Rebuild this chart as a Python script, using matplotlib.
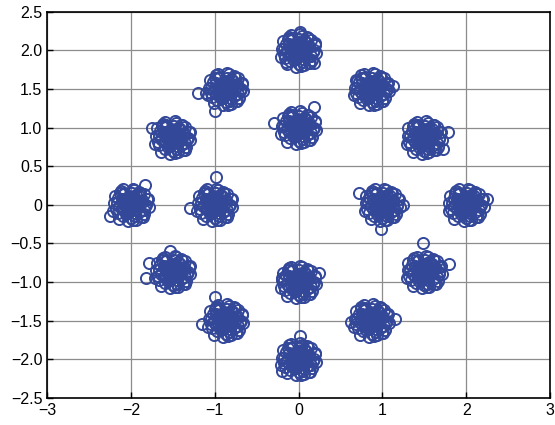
import numpy as np
import matplotlib
matplotlib.use("Agg")
import matplotlib.pyplot as plt
import matplotlib.ticker as ticker

# constellation centres
centre_x = [0.0, 0.87, 1.5, 2.0, 1.5, 0.87, 0.0, -0.87, -1.5, -2.0, -1.5, -0.87,
            0.0, 1.0, 0.0, -1.0]
centre_y = [2.0, 1.5, 0.87, 0.0, -0.87, -1.5, -2.0, -1.5, -0.87, 0.0, 0.87, 1.5,
            1.0, 0.0, -1.0, 0.0]

# scatter around each centre (estimated by eye)
core_dx = [0.00, 0.04, -0.05, 0.08, -0.09, 0.03, -0.03, 0.10, -0.11, 0.06,
           -0.06, 0.13, -0.14, 0.01, 0.05, -0.04, 0.15, -0.15, 0.09, -0.10,
           0.11, -0.08, 0.00, 0.18, -0.18, 0.04, -0.01, 0.14, -0.13, 0.08,
           -0.05, 0.19, -0.20, 0.03, 0.10, -0.09, 0.16, -0.16, 0.06, -0.02,
           0.13, -0.11, 0.21, -0.19, 0.00, 0.05, -0.08, 0.15, -0.14, 0.09,
           0.20, -0.21, 0.12, -0.12, 0.02, -0.03, 0.17, -0.17,
           # tight centre
           0.02, -0.02, 0.05, -0.05, 0.01, -0.01, 0.06, -0.06, 0.03, -0.03,
           0.00, 0.04, -0.04, 0.07, -0.07, 0.02, -0.02, 0.05, -0.05, 0.00,
           0.08, -0.08, 0.03, -0.03, 0.06, -0.06]
core_dy = [0.00, -0.05, 0.06, 0.03, -0.04, 0.10, -0.11, -0.09, 0.08, 0.13,
           -0.12, 0.04, -0.02, 0.15, -0.15, 0.01, -0.07, 0.09, 0.11, -0.14,
           0.16, 0.14, -0.17, 0.00, -0.05, 0.19, 0.05, -0.16, 0.15, -0.01,
           -0.09, 0.07, 0.02, -0.20, 0.17, 0.20, -0.12, -0.10, -0.19, 0.11,
           0.06, -0.06, -0.03, 0.12, 0.09, -0.11, 0.16, 0.14, -0.18, 0.04,
           0.08, -0.08, -0.16, 0.18, 0.21, -0.21, -0.02, 0.02,
           # tight centre
           0.02, -0.03, 0.01, -0.01, 0.05, -0.05, 0.04, -0.04, 0.07, -0.07,
           0.03, -0.02, 0.02, 0.00, 0.01, 0.08, -0.08, 0.06, -0.06, -0.04,
           -0.03, 0.03, 0.00, 0.01, -0.07, 0.07]

# stray points seen outside the cores
stray_x = [-0.15, 0.20, 0.18, 0.02, 1.13, 0.70, 1.78, 1.72, 2.25, 1.49, 1.80,
           1.15, 0.62, -0.20, 0.02, -1.00, -1.15, -1.54, -1.82, -1.78, -2.25,
           -1.83, -1.75, -1.20, -1.00, -1.10, 0.72, 0.98, -0.29, 0.18, -0.98,
           -1.30, 0.24, -0.20, 1.25]
stray_y = [1.85, 2.10, 1.84, 2.24, 1.54, 1.60, 0.95, 0.72, 0.08, -0.49, -0.77,
           -1.48, -1.52, -2.15, -1.70, -1.19, -1.55, -0.60, -0.95, -0.75, -0.15,
           0.26, 1.00, 1.45, 1.22, 1.45, 0.16, -0.31, 1.06, 1.27, 0.36,
           -0.04, -0.88, -0.95, 0.0]

xs, ys = [], []
for cx, cy in zip(centre_x, centre_y):
    xs.extend(cx + d for d in core_dx)
    ys.extend(cy + d for d in core_dy)
xs.extend(stray_x)
ys.extend(stray_y)

plt.rcParams['font.family'] = ['Liberation Sans', 'DejaVu Sans']

fig = plt.figure(figsize=(5.55, 4.25), dpi=100)
ax = fig.add_axes([0.085, 0.064, 0.906, 0.908])

ax.plot(xs, ys, linestyle='none', marker='o', markersize=8,
        markerfacecolor='none', markeredgecolor='#34489a', markeredgewidth=1.4)

ax.set_xlim(-3, 3)
ax.set_ylim(-2.5, 2.5)
ax.set_xticks(np.arange(-3, 4, 1))
ax.set_yticks(np.arange(-2.5, 2.51, 0.5))

def fmt_y(y, pos):
    if abs(y) < 1e-9:
        return '0'
    return f'{y:.1f}'.replace('-', '\u2212')

def fmt_x(x, pos):
    return f'{x:.0f}'.replace('-', '\u2212')

ax.xaxis.set_major_formatter(ticker.FuncFormatter(fmt_x))
ax.yaxis.set_major_formatter(ticker.FuncFormatter(fmt_y))

ax.grid(True, color='#8c8c8c', linewidth=0.9)
ax.set_axisbelow(True)
ax.tick_params(direction='in', length=4, width=1, labelsize=11.5, colors='black')
for s in ax.spines.values():
    s.set_linewidth(1.2)

fig.savefig('out.png', dpi=100)
